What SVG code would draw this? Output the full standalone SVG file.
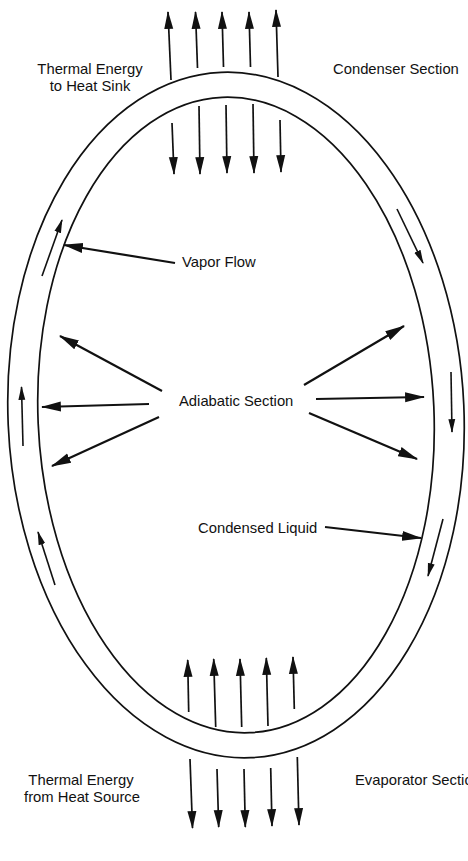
<svg xmlns="http://www.w3.org/2000/svg" width="468" height="861" viewBox="0 0 468 861">
<defs>
<style>
.t{font-family:"Liberation Sans",Arial,sans-serif;font-size:14.8px;fill:#111}
.pipe{fill:none;stroke:#111;stroke-width:1.7}
.a{stroke:#111;stroke-width:1.7;fill:none;marker-end:url(#ah)}
.b{stroke:#111;stroke-width:2.2;fill:none;marker-end:url(#ab)}
.s{stroke:#111;stroke-width:1.6;fill:none;marker-end:url(#as)}
</style>
<marker id="ah" markerUnits="userSpaceOnUse" markerWidth="18" markerHeight="12" viewBox="0 0 16 10" refX="15" refY="5" orient="auto"><path d="M0,1 L16,5 L0,9 Z" fill="#111"/></marker>
<marker id="ab" markerUnits="userSpaceOnUse" markerWidth="20" markerHeight="12" viewBox="0 0 18 10" refX="17" refY="5" orient="auto"><path d="M0,0.5 L18,5 L0,9.5 Z" fill="#111"/></marker>
<marker id="as" markerUnits="userSpaceOnUse" markerWidth="14" markerHeight="10" viewBox="0 0 13 8" refX="12" refY="4" orient="auto"><path d="M0,0.8 L13,4 L0,7.2 Z" fill="#111"/></marker>
</defs>
<rect width="468" height="861" fill="#fff"/>
<g id="pipe">
<ellipse class="pipe" cx="236" cy="415" rx="228" ry="343" transform="rotate(-2.5 236 415)"/>
<ellipse class="pipe" cx="236" cy="415" rx="198" ry="318" transform="rotate(-2.5 236 415)"/>
</g>
<g id="connectors">
<line class="a" x1="171" y1="80" x2="168" y2="12"/>
<line class="a" x1="197.5" y1="68" x2="195.5" y2="12"/>
<line class="a" x1="223.5" y1="67" x2="222" y2="12"/>
<line class="a" x1="250.5" y1="67" x2="249" y2="12"/>
<line class="a" x1="278" y1="77" x2="276" y2="10"/>
<line class="a" x1="172" y1="123" x2="174" y2="174"/>
<line class="a" x1="199" y1="106" x2="200" y2="174"/>
<line class="a" x1="226" y1="105" x2="227" y2="173"/>
<line class="a" x1="253" y1="104" x2="254" y2="173"/>
<line class="a" x1="280" y1="120" x2="281" y2="172"/>
<line class="a" x1="188.7" y1="712" x2="187.7" y2="660"/>
<line class="a" x1="215.7" y1="727" x2="213.7" y2="659"/>
<line class="a" x1="241.7" y1="727" x2="240" y2="659"/>
<line class="a" x1="268" y1="726" x2="266.3" y2="658"/>
<line class="a" x1="294.3" y1="709" x2="293" y2="657"/>
<line class="a" x1="190" y1="759" x2="192.5" y2="828"/>
<line class="a" x1="217" y1="769" x2="218.7" y2="827"/>
<line class="a" x1="244" y1="769" x2="245.3" y2="827"/>
<line class="a" x1="270.7" y1="768" x2="272" y2="826"/>
<line class="a" x1="297.3" y1="757" x2="299" y2="825"/>
<line class="b" x1="175" y1="263" x2="64" y2="245"/>
<line class="b" x1="162" y1="391" x2="60" y2="336"/>
<line class="b" x1="149" y1="404" x2="42" y2="407"/>
<line class="b" x1="159" y1="417" x2="52" y2="466"/>
<line class="b" x1="304" y1="385" x2="404" y2="326"/>
<line class="b" x1="316" y1="399" x2="424" y2="397"/>
<line class="b" x1="309" y1="413" x2="417" y2="459"/>
<line class="b" x1="325" y1="527" x2="421" y2="538"/>
<line class="s" x1="42" y1="276" x2="62" y2="220"/>
<line class="s" x1="23" y1="446" x2="21.5" y2="387"/>
<line class="s" x1="55" y1="585" x2="38" y2="532"/>
<line class="s" x1="397" y1="209" x2="423" y2="263"/>
<line class="s" x1="451" y1="372" x2="452" y2="432"/>
<line class="s" x1="443" y1="519" x2="428" y2="576"/>
</g>
<g id="labels">
<text class="t" x="90" y="74" text-anchor="middle">Thermal Energy</text>
<text class="t" x="90" y="91" text-anchor="middle">to Heat Sink</text>
<text class="t" x="333" y="74">Condenser Section</text>
<text class="t" x="182" y="267">Vapor Flow</text>
<text class="t" x="179" y="406">Adiabatic Section</text>
<text class="t" x="198" y="533">Condensed Liquid</text>
<text class="t" x="81" y="785" text-anchor="middle">Thermal Energy</text>
<text class="t" x="82" y="802" text-anchor="middle">from Heat Source</text>
<text class="t" x="355" y="785">Evaporator Section</text>
</g>
</svg>
